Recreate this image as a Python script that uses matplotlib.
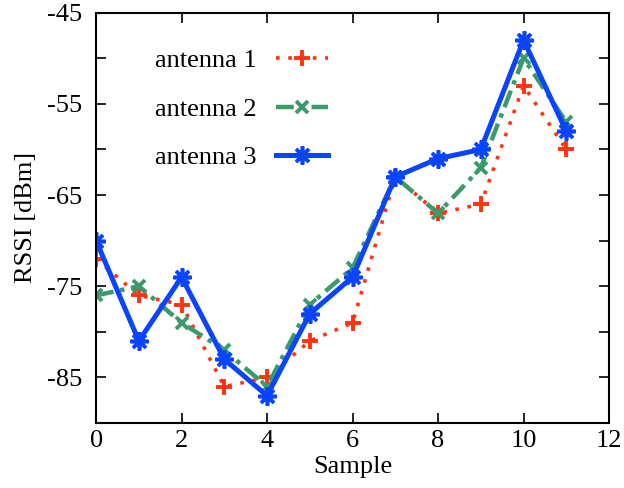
import numpy as np
import matplotlib
matplotlib.use('Agg')
import matplotlib.pyplot as plt

plt.rcParams['font.family'] = ['Liberation Serif', 'DejaVu Serif']
plt.rcParams['font.size'] = 19
plt.rcParams['axes.unicode_minus'] = False

#sample index and rssi readings for each antenna
samples = np.arange(12)
antenna1 = [-72, -76, -77, -86, -85, -81, -79, -63, -67, -66, -53, -60]
antenna2 = [-76, -75, -79, -82, -86, -77, -73, -63, -67, -62, -50, -57]
antenna3 = [-70, -81, -74, -83, -87, -78, -74, -63, -61, -60, -48, -58]
labels = ['antenna 1', 'antenna 2', 'antenna 3']

fig = plt.figure(figsize=(6.24, 4.88), dpi=100)
ax = fig.add_axes([0.154, 0.133, 0.822, 0.841])

#red dotted with plus markers
ax.plot(samples, antenna1, color='#ff3311', lw=2.6, dashes=(1, 2.4),
        marker='+', ms=11, mew=2.8, label=labels[0])
#green dash dot with x markers
ax.plot(samples, antenna2, color='#3a9a6b', lw=3.2, dashes=(4, 1.5, 1, 1.5),
        marker='x', ms=9, mew=2.8, label=labels[1])
#blue solid with star markers
ax.plot(samples, antenna3, color='#0a44ff', lw=3.6, marker=(8, 2, 0),
        ms=13, mew=2.6, label=labels[2])

ax.set_xlim(0, 12)
ax.set_ylim(-90, -45)
ax.set_xticks(np.arange(0, 13, 2))
ax.set_yticks(np.arange(-85, -44, 10))
ax.set_yticks(np.arange(-90, -44, 10), minor=True)
ax.tick_params(which='both', direction='in', top=True, right=True, length=7, width=1.2)
ax.tick_params(axis='x', pad=5)
ax.tick_params(axis='y', pad=10)
for s in ax.spines.values():
    s.set_linewidth(1.5)

ax.set_xlabel('Sample', labelpad=3)
ax.set_ylabel('RSSI [dBm]', labelpad=7)

ax.legend(loc='upper left', bbox_to_anchor=(0.068, 0.97), frameon=False,
          markerfirst=False, handlelength=1.95, labelspacing=0.95,
          handletextpad=0.75, fontsize=19)

fig.savefig('out.png', dpi=100)
